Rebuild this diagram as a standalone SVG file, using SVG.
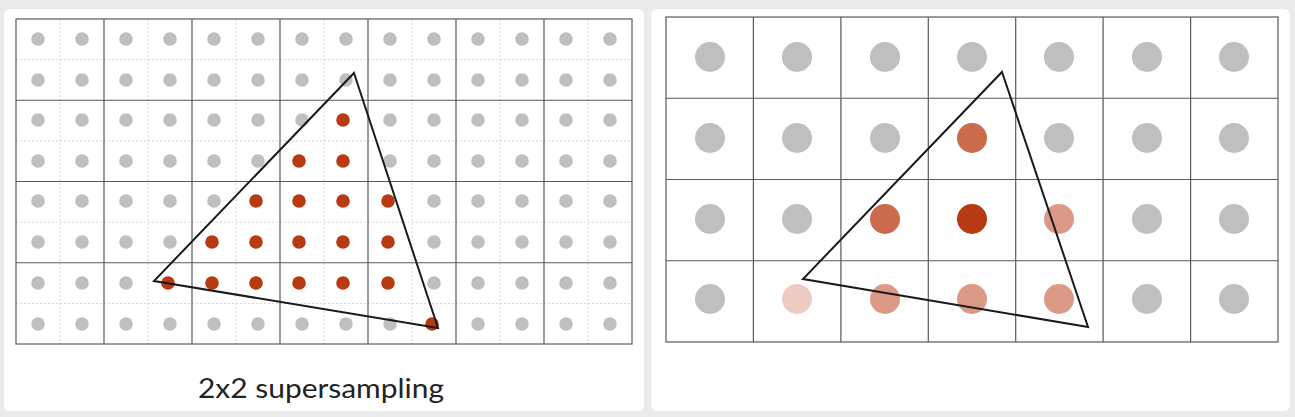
<svg xmlns="http://www.w3.org/2000/svg" width="1295" height="417" viewBox="0 0 1295 417">
<style>
.card{fill:#fff}
.major{stroke:#5a5a5a;stroke-width:1.2;fill:none}
.minor{stroke:#d4d4d4;stroke-width:1;stroke-dasharray:2 2;fill:none}
.g{fill:#bfbfbf}
.r{fill:#b83a12}
.tri{fill:none;stroke:#1a1a1a;stroke-width:2;stroke-linejoin:miter}
.c4{fill:#b83a12}.c3{fill:#ca6b4c}.c2{fill:#dc9a86}.c1{fill:#efccc3}
text{font-family:Lato,"Open Sans","Liberation Sans",sans-serif;font-size:27px;fill:#222}
</style>
<rect width="1295" height="417" fill="#ebebeb"/>
<g id="left-panel">
<rect class="card" x="4" y="9" width="640" height="402" rx="6"/>
<g id="left-minor-grid">
<path class="minor" d="M60 19V344M148 19V344M236 19V344M324 19V344M412 19V344M500 19V344M588 19V344M16 59.6H632M16 140.9H632M16 222.1H632M16 303.4H632"/>
</g>
<g id="left-major-grid">
<rect class="major" x="16" y="19" width="616" height="325"/>
<path class="major" d="M104 19V344M192 19V344M280 19V344M368 19V344M456 19V344M544 19V344M16 100.25H632M16 181.5H632M16 262.75H632"/>
</g>
<g id="left-samples">
<g class="g">
<circle cx="38" cy="39" r="6.8"/><circle cx="82" cy="39" r="6.8"/><circle cx="126" cy="39" r="6.8"/><circle cx="170" cy="39" r="6.8"/><circle cx="214" cy="39" r="6.8"/><circle cx="258" cy="39" r="6.8"/><circle cx="302" cy="39" r="6.8"/><circle cx="346" cy="39" r="6.8"/><circle cx="390" cy="39" r="6.8"/><circle cx="434" cy="39" r="6.8"/><circle cx="478" cy="39" r="6.8"/><circle cx="522" cy="39" r="6.8"/><circle cx="566" cy="39" r="6.8"/><circle cx="610" cy="39" r="6.8"/>
<circle cx="38" cy="80" r="6.8"/><circle cx="82" cy="80" r="6.8"/><circle cx="126" cy="80" r="6.8"/><circle cx="170" cy="80" r="6.8"/><circle cx="214" cy="80" r="6.8"/><circle cx="258" cy="80" r="6.8"/><circle cx="302" cy="80" r="6.8"/><circle cx="346" cy="80" r="6.8"/><circle cx="390" cy="80" r="6.8"/><circle cx="434" cy="80" r="6.8"/><circle cx="478" cy="80" r="6.8"/><circle cx="522" cy="80" r="6.8"/><circle cx="566" cy="80" r="6.8"/><circle cx="610" cy="80" r="6.8"/>
<circle cx="38" cy="120" r="6.8"/><circle cx="82" cy="120" r="6.8"/><circle cx="126" cy="120" r="6.8"/><circle cx="170" cy="120" r="6.8"/><circle cx="214" cy="120" r="6.8"/><circle cx="258" cy="120" r="6.8"/><circle cx="302" cy="120" r="6.8"/><circle cx="390" cy="120" r="6.8"/><circle cx="434" cy="120" r="6.8"/><circle cx="478" cy="120" r="6.8"/><circle cx="522" cy="120" r="6.8"/><circle cx="566" cy="120" r="6.8"/><circle cx="610" cy="120" r="6.8"/>
<circle cx="38" cy="161" r="6.8"/><circle cx="82" cy="161" r="6.8"/><circle cx="126" cy="161" r="6.8"/><circle cx="170" cy="161" r="6.8"/><circle cx="214" cy="161" r="6.8"/><circle cx="258" cy="161" r="6.8"/><circle cx="390" cy="161" r="6.8"/><circle cx="434" cy="161" r="6.8"/><circle cx="478" cy="161" r="6.8"/><circle cx="522" cy="161" r="6.8"/><circle cx="566" cy="161" r="6.8"/><circle cx="610" cy="161" r="6.8"/>
<circle cx="38" cy="201" r="6.8"/><circle cx="82" cy="201" r="6.8"/><circle cx="126" cy="201" r="6.8"/><circle cx="170" cy="201" r="6.8"/><circle cx="214" cy="201" r="6.8"/><circle cx="434" cy="201" r="6.8"/><circle cx="478" cy="201" r="6.8"/><circle cx="522" cy="201" r="6.8"/><circle cx="566" cy="201" r="6.8"/><circle cx="610" cy="201" r="6.8"/>
<circle cx="38" cy="242" r="6.8"/><circle cx="82" cy="242" r="6.8"/><circle cx="126" cy="242" r="6.8"/><circle cx="170" cy="242" r="6.8"/><circle cx="434" cy="242" r="6.8"/><circle cx="478" cy="242" r="6.8"/><circle cx="522" cy="242" r="6.8"/><circle cx="566" cy="242" r="6.8"/><circle cx="610" cy="242" r="6.8"/>
<circle cx="38" cy="283" r="6.8"/><circle cx="82" cy="283" r="6.8"/><circle cx="126" cy="283" r="6.8"/><circle cx="434" cy="283" r="6.8"/><circle cx="478" cy="283" r="6.8"/><circle cx="522" cy="283" r="6.8"/><circle cx="566" cy="283" r="6.8"/><circle cx="610" cy="283" r="6.8"/>
<circle cx="38" cy="324" r="6.8"/><circle cx="82" cy="324" r="6.8"/><circle cx="126" cy="324" r="6.8"/><circle cx="170" cy="324" r="6.8"/><circle cx="214" cy="324" r="6.8"/><circle cx="258" cy="324" r="6.8"/><circle cx="302" cy="324" r="6.8"/><circle cx="346" cy="324" r="6.8"/><circle cx="390" cy="324" r="6.8"/><circle cx="478" cy="324" r="6.8"/><circle cx="522" cy="324" r="6.8"/><circle cx="566" cy="324" r="6.8"/><circle cx="610" cy="324" r="6.8"/>
</g>
<g class="r">
<circle cx="343" cy="120" r="6.8"/>
<circle cx="299" cy="161" r="6.8"/><circle cx="343" cy="161" r="6.8"/>
<circle cx="256" cy="201" r="6.8"/><circle cx="299" cy="201" r="6.8"/><circle cx="343" cy="201" r="6.8"/><circle cx="388" cy="201" r="6.8"/>
<circle cx="212" cy="242" r="6.8"/><circle cx="256" cy="242" r="6.8"/><circle cx="299" cy="242" r="6.8"/><circle cx="343" cy="242" r="6.8"/><circle cx="388" cy="242" r="6.8"/>
<circle cx="168" cy="283" r="6.8"/><circle cx="212" cy="283" r="6.8"/><circle cx="256" cy="283" r="6.8"/><circle cx="299" cy="283" r="6.8"/><circle cx="343" cy="283" r="6.8"/><circle cx="388" cy="283" r="6.8"/>
<circle cx="432" cy="324" r="6.8"/>
</g>
</g>
<polygon id="left-triangle" class="tri" points="354,73 438,328 154,281"/>
<text id="left-label" x="321" y="398" text-anchor="middle" textLength="246" lengthAdjust="spacingAndGlyphs">2x2 supersampling</text>
</g>
<g id="right-panel">
<rect class="card" x="651" y="9" width="639" height="402" rx="6"/>
<g id="right-grid">
<rect class="major" x="666" y="17" width="612" height="325"/>
<path class="major" d="M753.4 17V342M840.9 17V342M928.3 17V342M1015.7 17V342M1103.1 17V342M1190.6 17V342M666 98.25H1278M666 179.5H1278M666 260.75H1278"/>
</g>
<g id="right-pixels">
<g class="g">
<circle cx="710" cy="57" r="15"/><circle cx="797" cy="57" r="15"/><circle cx="885" cy="57" r="15"/><circle cx="972" cy="57" r="15"/><circle cx="1059" cy="57" r="15"/><circle cx="1147" cy="57" r="15"/><circle cx="1234" cy="57" r="15"/>
<circle cx="710" cy="138" r="15"/><circle cx="797" cy="138" r="15"/><circle cx="885" cy="138" r="15"/><circle cx="1059" cy="138" r="15"/><circle cx="1147" cy="138" r="15"/><circle cx="1234" cy="138" r="15"/>
<circle cx="710" cy="219" r="15"/><circle cx="797" cy="219" r="15"/><circle cx="1147" cy="219" r="15"/><circle cx="1234" cy="219" r="15"/>
<circle cx="710" cy="299" r="15"/><circle cx="1147" cy="299" r="15"/><circle cx="1234" cy="299" r="15"/>
</g>
<circle class="c3" cx="972" cy="138" r="15"/>
<circle class="c3" cx="885" cy="219" r="15"/>
<circle class="c4" cx="972" cy="219" r="15"/>
<circle class="c2" cx="1059" cy="219" r="15"/>
<circle class="c1" cx="797" cy="299" r="15"/>
<circle class="c2" cx="885" cy="299" r="15"/>
<circle class="c2" cx="972" cy="299" r="15"/>
<circle class="c2" cx="1059" cy="299" r="15"/>
</g>
<polygon id="right-triangle" class="tri" points="1002,72 1088,327 803,279"/>
</g>
</svg>
